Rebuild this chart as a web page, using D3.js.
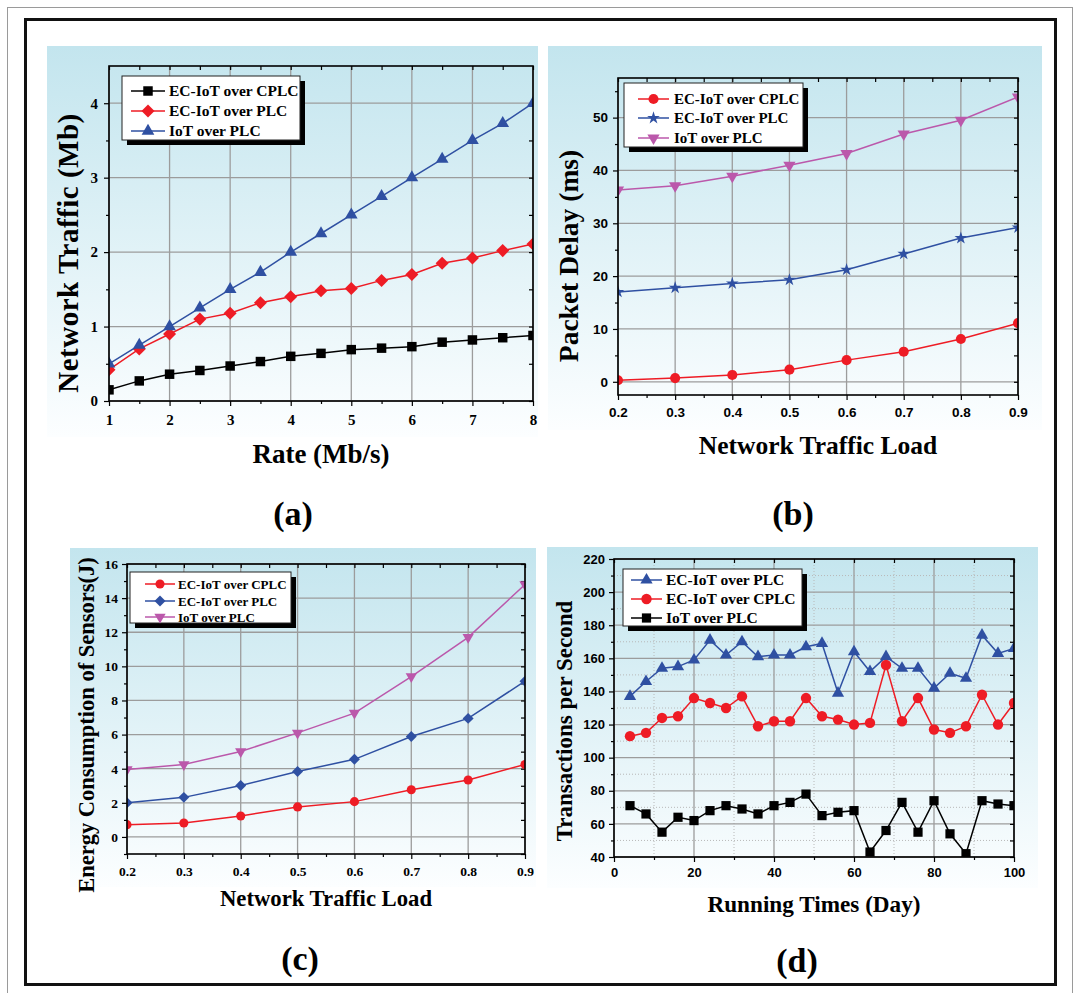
<!DOCTYPE html>
<html>
<head>
<meta charset="utf-8">
<script src="https://cdn.jsdelivr.net/npm/d3@7"></script>
<style>
  body { margin: 0; background: #fff; }
</style>
</head>
<body>
<div id="chart"></div>
<script>
// ---------- DATA ----------
// (a) network traffic vs rate
const rateX = [1, 1.5, 2, 2.5, 3, 3.5, 4, 4.5, 5, 5.5, 6, 6.5, 7, 7.5, 8];
const trafficCplc = [0.15, 0.27, 0.36, 0.41, 0.47, 0.53, 0.60, 0.64, 0.69, 0.71, 0.73, 0.79, 0.82, 0.85, 0.88];
const trafficPlc = [0.42, 0.70, 0.90, 1.10, 1.18, 1.32, 1.40, 1.48, 1.51, 1.62, 1.70, 1.85, 1.92, 2.02, 2.11];
const trafficIot = [0.50, 0.75, 1.00, 1.25, 1.50, 1.73, 2.00, 2.25, 2.50, 2.75, 3.00, 3.25, 3.50, 3.73, 4.00];
const rateTicks = [1, 2, 3, 4, 5, 6, 7, 8];
const trafficTicks = [0, 1, 2, 3, 4];

// (b) packet delay vs load
const loadX = [0.2, 0.3, 0.4, 0.5, 0.6, 0.7, 0.8, 0.9];
const delayCplc = [0.3, 0.7, 1.3, 2.3, 4.1, 5.7, 8.1, 11.1];
const delayPlc = [17.0, 17.8, 18.6, 19.3, 21.2, 24.2, 27.2, 29.2];
const delayIot = [36.3, 37.1, 38.9, 41.0, 43.2, 46.9, 49.5, 53.9];
const loadTicks = [0.2, 0.3, 0.4, 0.5, 0.6, 0.7, 0.8, 0.9];
const delayTicks = [0, 10, 20, 30, 40, 50];

// (c) energy consumption vs load
const energyCplc = [0.72, 0.82, 1.23, 1.76, 2.07, 2.77, 3.34, 4.25];
const energyPlc = [2.0, 2.32, 3.02, 3.84, 4.55, 5.89, 6.95, 9.13];
const energyIot = [3.96, 4.25, 5.01, 6.1, 7.26, 9.4, 11.7, 14.8];
const energyTicks = [0, 2, 4, 6, 8, 10, 12, 14, 16];

// (d) transactions per second vs running day
const dayX = [4, 8, 12, 16, 20, 24, 28, 32, 36, 40, 44, 48, 52, 56, 60, 64, 68, 72, 76, 80, 84, 88, 92, 96, 100];
const tpsPlc = [137, 146, 154, 155, 159, 171, 162, 170, 161, 162, 162, 167, 169, 139, 164, 152, 161, 154, 154, 142, 151, 148, 174, 163, 166];
const tpsCplc = [113, 115, 124, 125, 136, 133, 130, 137, 119, 122, 122, 136, 125, 123, 120, 121, 156, 122, 136, 117, 115, 119, 138, 120, 133];
const tpsIot = [71, 66, 55, 64, 62, 68, 71, 69, 66, 71, 73, 78, 65, 67, 68, 43, 56, 73, 55, 74, 54, 42, 74, 72, 71];
const dayTicks = [0, 20, 40, 60, 80, 100];
const tpsTicks = [40, 60, 80, 100, 120, 140, 160, 180, 200, 220];

// ---------- STYLE ----------
const SERIF = "'Liberation Serif', 'Times New Roman', serif";
const SANS = "'Liberation Sans', Arial, sans-serif";
const RED = "#ee1c25";
const BLUE = "#2f50a2";
const MAGENTA = "#bb58ab";
const BLACK = "#000";

const svg = d3.select("#chart").append("svg")
    .attr("width", 1075)
    .attr("height", 993);

svg.append("rect").attr("width", 1075).attr("height", 993).attr("fill", "#fff");

const defs = svg.append("defs");
const grad = defs.append("linearGradient")
    .attr("id", "bgGrad")
    .attr("x1", 0).attr("y1", 0).attr("x2", 0).attr("y2", 1);
grad.append("stop").attr("offset", "0%").attr("stop-color", "#c3e5ee");
grad.append("stop").attr("offset", "100%").attr("stop-color", "#fcfeff");

// outer frames
svg.append("rect")
    .attr("x", 7.5).attr("y", 7.5).attr("width", 1065).attr("height", 1000)
    .attr("fill", "none").attr("stroke", "#9a9a9a").attr("stroke-width", 1);
svg.append("rect")
    .attr("x", 25.5).attr("y", 19.5).attr("width", 1030).attr("height", 965)
    .attr("fill", "none").attr("stroke", "#111").attr("stroke-width", 3);

function markerPath(kind, size) {
    const map = {
        square: d3.symbolSquare,
        diamond: d3.symbolSquare,
        triangle: d3.symbolTriangle,
        down: d3.symbolTriangle,
        circle: d3.symbolCircle,
        star: d3.symbolStar
    };
    return d3.symbol(map[kind], size)();
}
function markerRotate(kind) {
    if (kind === "diamond") return 45;
    if (kind === "down") return 180;
    return 0;
}

function drawPanel(p, idx) {
    const g = svg.append("g");

    // gradient background
    g.append("rect")
        .attr("x", p.bg[0]).attr("y", p.bg[1])
        .attr("width", p.bg[2] - p.bg[0]).attr("height", p.bg[3] - p.bg[1])
        .attr("fill", "url(#bgGrad)");

    const { l, t, r, b } = p.plot;
    const x = d3.scaleLinear().domain(p.xDomain).range([l, r]);
    const y = d3.scaleLinear().domain(p.yDomain).range([b, t]);

    // minor dotted grid (only some panels)
    if (p.minorGrid) {
        p.xMinor.forEach((v) => {
            g.append("line")
                .attr("x1", x(v)).attr("x2", x(v)).attr("y1", t).attr("y2", b)
                .attr("stroke", "#b8b8b8").attr("stroke-width", 1)
                .attr("stroke-dasharray", "1,2");
        });
        p.yMinor.forEach((v) => {
            g.append("line")
                .attr("y1", y(v)).attr("y2", y(v)).attr("x1", l).attr("x2", r)
                .attr("stroke", "#b8b8b8").attr("stroke-width", 1)
                .attr("stroke-dasharray", "1,2");
        });
    }

    // major grid
    p.xTicks.forEach((v) => {
        g.append("line")
            .attr("x1", x(v)).attr("x2", x(v)).attr("y1", t).attr("y2", b)
            .attr("stroke", "#9c9c9c").attr("stroke-width", 1.3);
    });
    p.yTicks.forEach((v) => {
        g.append("line")
            .attr("y1", y(v)).attr("y2", y(v)).attr("x1", l).attr("x2", r)
            .attr("stroke", "#9c9c9c").attr("stroke-width", 1.3);
    });

    // axes
    const styleAxis = (sel) => {
        sel.select(".domain").remove();
        sel.attr("font-family", p.tickFont)
            .attr("font-size", p.tickSize)
            .attr("font-weight", "bold");
        sel.selectAll("line").attr("stroke", "#000").attr("stroke-width", 1.2);
        sel.selectAll("text").attr("fill", "#000");
    };

    g.append("g").attr("transform", `translate(0,${b})`)
        .call(d3.axisBottom(x).tickValues(p.xTicks).tickSize(5).tickPadding(p.xPad).tickFormat(p.xFormat))
        .call(styleAxis);
    g.append("g").attr("transform", `translate(0,${b})`)
        .call(d3.axisBottom(x).tickValues(p.xMinor).tickSize(3).tickFormat(""))
        .call(styleAxis);
    g.append("g").attr("transform", `translate(${l},0)`)
        .call(d3.axisLeft(y).tickValues(p.yTicks).tickSize(5).tickPadding(p.yPad).tickFormat(p.yFormat))
        .call(styleAxis);
    g.append("g").attr("transform", `translate(${l},0)`)
        .call(d3.axisLeft(y).tickValues(p.yMinor).tickSize(3).tickFormat(""))
        .call(styleAxis);
    // mirrored inward ticks on top and right
    g.append("g").attr("transform", `translate(0,${t})`)
        .call(d3.axisBottom(x).tickValues(p.xTicks.concat(p.xMinor)).tickSize(4).tickFormat(""))
        .call(styleAxis);
    g.append("g").attr("transform", `translate(${r},0)`)
        .call(d3.axisLeft(y).tickValues(p.yTicks.concat(p.yMinor)).tickSize(4).tickFormat(""))
        .call(styleAxis);

    // series (clipped to plot)
    const clipId = "clip" + idx;
    defs.append("clipPath").attr("id", clipId)
        .append("rect").attr("x", l).attr("y", t).attr("width", r - l).attr("height", b - t);
    const plotG = g.append("g").attr("clip-path", `url(#${clipId})`);

    p.series.forEach((s) => {
        const pts = s.xs.map((xv, i) => [xv, s.ys[i]]);
        const line = d3.line().x((d) => x(d[0])).y((d) => y(d[1]));
        plotG.append("path")
            .datum(pts)
            .attr("d", line)
            .attr("fill", "none")
            .attr("stroke", s.color)
            .attr("stroke-width", 1.5);
        plotG.selectAll(null)
            .data(pts)
            .enter()
            .append("path")
            .attr("d", markerPath(s.marker, s.size))
            .attr("transform", (d) => `translate(${x(d[0])},${y(d[1])}) rotate(${markerRotate(s.marker)})`)
            .attr("fill", s.color);
    });

    // frame
    g.append("rect")
        .attr("x", l).attr("y", t).attr("width", r - l).attr("height", b - t)
        .attr("fill", "none").attr("stroke", "#000").attr("stroke-width", 1.6);

    // legend
    const lg = p.legend;
    g.append("rect")
        .attr("x", lg.x + 5).attr("y", lg.y + 5).attr("width", lg.w).attr("height", lg.h)
        .attr("fill", "#000");
    g.append("rect")
        .attr("x", lg.x).attr("y", lg.y).attr("width", lg.w).attr("height", lg.h)
        .attr("fill", "#fff").attr("stroke", "#222").attr("stroke-width", 1);
    lg.order.forEach((si, i) => {
        const s = p.series[si];
        const ry = lg.rows[i];
        g.append("line")
            .attr("x1", lg.line[0]).attr("x2", lg.line[1]).attr("y1", ry).attr("y2", ry)
            .attr("stroke", s.color).attr("stroke-width", 1.5);
        g.append("path")
            .attr("d", markerPath(s.marker, s.size))
            .attr("transform", `translate(${(lg.line[0] + lg.line[1]) / 2},${ry}) rotate(${markerRotate(s.marker)})`)
            .attr("fill", s.color);
        g.append("text")
            .attr("x", lg.textX).attr("y", ry).attr("dy", "0.35em")
            .attr("font-family", SERIF).attr("font-weight", "bold")
            .attr("font-size", lg.font)
            .text(s.name);
    });

    // axis titles
    g.append("text")
        .attr("x", p.xTitle.x).attr("y", p.xTitle.y)
        .attr("text-anchor", "middle")
        .attr("font-family", SERIF).attr("font-weight", "bold")
        .attr("font-size", p.xTitle.size)
        .text(p.xTitle.text);
    g.append("text")
        .attr("transform", `translate(${p.yTitle.x},${p.yTitle.y}) rotate(-90)`)
        .attr("text-anchor", "middle")
        .attr("font-family", SERIF).attr("font-weight", "bold")
        .attr("font-size", p.yTitle.size)
        .attr("letter-spacing", p.yTitle.spacing || 0)
        .text(p.yTitle.text);

    // panel label
    g.append("text")
        .attr("x", p.label.x).attr("y", p.label.y)
        .attr("text-anchor", "middle")
        .attr("font-family", SERIF).attr("font-weight", "bold")
        .attr("font-size", 34)
        .text(p.label.text);
}

const panels = [
    {
        bg: [47, 46, 538, 437],
        plot: { l: 109, t: 66, r: 533, b: 401 },
        xDomain: [1, 8], yDomain: [0, 4.5],
        xTicks: rateTicks, yTicks: trafficTicks,
        xMinor: [1.5, 2.5, 3.5, 4.5, 5.5, 6.5, 7.5],
        yMinor: [0.5, 1.5, 2.5, 3.5],
        xFormat: d3.format("d"), yFormat: d3.format("d"),
        tickFont: SERIF, tickSize: 15, xPad: 8, yPad: 6,
        series: [
            { name: "EC-IoT over CPLC", xs: rateX, ys: trafficCplc, color: BLACK, marker: "square", size: 90 },
            { name: "EC-IoT over PLC", xs: rateX, ys: trafficPlc, color: RED, marker: "diamond", size: 85 },
            { name: "IoT over PLC", xs: rateX, ys: trafficIot, color: BLUE, marker: "triangle", size: 70 }
        ],
        legend: { x: 122, y: 76, w: 178, h: 64, rows: [91, 111, 131], line: [131, 165], textX: 169, font: 15.5, order: [0, 1, 2] },
        xTitle: { text: "Rate (Mb/s)", x: 321, y: 463, size: 27 },
        yTitle: { text: "Network Traffic (Mb)", x: 78, y: 253, size: 29, spacing: 0.5 },
        label: { text: "(a)", x: 293, y: 525 }
    },
    {
        bg: [548, 46, 1042, 430],
        plot: { l: 618, t: 78, r: 1018, b: 395 },
        xDomain: [0.2, 0.9], yDomain: [-2.5, 57.5],
        xTicks: loadTicks, yTicks: delayTicks,
        xMinor: [0.25, 0.35, 0.45, 0.55, 0.65, 0.75, 0.85],
        yMinor: [5, 15, 25, 35, 45, 55],
        xFormat: d3.format(".1f"), yFormat: d3.format("d"),
        tickFont: SANS, tickSize: 13.5, xPad: 7, yPad: 5,
        series: [
            { name: "EC-IoT over CPLC", xs: loadX, ys: delayCplc, color: RED, marker: "circle", size: 80 },
            { name: "EC-IoT over PLC", xs: loadX, ys: delayPlc, color: BLUE, marker: "star", size: 50 },
            { name: "IoT over PLC", xs: loadX, ys: delayIot, color: MAGENTA, marker: "down", size: 65 }
        ],
        legend: { x: 624, y: 83, w: 179, h: 64, rows: [99, 118, 138], line: [638, 669], textX: 674, font: 15, order: [0, 1, 2] },
        xTitle: { text: "Network Traffic Load", x: 818, y: 454, size: 25.5 },
        yTitle: { text: "Packet Delay (ms)", x: 578, y: 256, size: 27.5 },
        label: { text: "(b)", x: 793, y: 525 }
    },
    {
        bg: [70, 548, 536, 887],
        plot: { l: 127, t: 564, r: 525, b: 854 },
        xDomain: [0.2, 0.9], yDomain: [-1, 16],
        xTicks: loadTicks, yTicks: energyTicks,
        xMinor: [0.25, 0.35, 0.45, 0.55, 0.65, 0.75, 0.85],
        yMinor: [-1, 1, 3, 5, 7, 9, 11, 13, 15],
        xFormat: d3.format(".1f"), yFormat: d3.format("d"),
        tickFont: SERIF, tickSize: 13.5, xPad: 7, yPad: 4,
        series: [
            { name: "EC-IoT over CPLC", xs: loadX, ys: energyCplc, color: RED, marker: "circle", size: 65 },
            { name: "EC-IoT over PLC", xs: loadX, ys: energyPlc, color: BLUE, marker: "diamond", size: 60 },
            { name: "IoT over PLC", xs: loadX, ys: energyIot, color: MAGENTA, marker: "down", size: 55 }
        ],
        legend: { x: 130, y: 572, w: 161, h: 51, rows: [584, 601, 617], line: [145, 175], textX: 178, font: 13, order: [0, 1, 2] },
        xTitle: { text: "Network Traffic Load", x: 326, y: 906, size: 22.7 },
        yTitle: { text: "Energy Consumption of Sensors(J)", x: 94, y: 725, size: 22.5 },
        label: { text: "(c)", x: 300, y: 970 }
    },
    {
        bg: [547, 547, 1038, 888],
        plot: { l: 614, t: 559, r: 1014, b: 857 },
        xDomain: [0, 100], yDomain: [40, 220],
        xTicks: dayTicks, yTicks: tpsTicks,
        xMinor: [10, 30, 50, 70, 90],
        yMinor: [50, 70, 90, 110, 130, 150, 170, 190, 210],
        xFormat: d3.format("d"), yFormat: d3.format("d"),
        tickFont: SANS, tickSize: 13, xPad: 6, yPad: 4,
        minorGrid: true,
        series: [
            { name: "EC-IoT over PLC", xs: dayX, ys: tpsPlc, color: BLUE, marker: "triangle", size: 65 },
            { name: "EC-IoT over CPLC", xs: dayX, ys: tpsCplc, color: RED, marker: "circle", size: 85 },
            { name: "IoT over PLC", xs: dayX, ys: tpsIot, color: BLACK, marker: "square", size: 85 }
        ],
        legend: { x: 623, y: 569, w: 179, h: 57, rows: [580, 599, 618], line: [631, 662], textX: 666, font: 15.5, order: [0, 1, 2] },
        xTitle: { text: "Running Times (Day)", x: 814, y: 912, size: 23.2 },
        yTitle: { text: "Transactions per Second", x: 572, y: 721, size: 23 },
        label: { text: "(d)", x: 797, y: 972 }
    }
];

panels.forEach((p, i) => drawPanel(p, i));
</script>
</body>
</html>
